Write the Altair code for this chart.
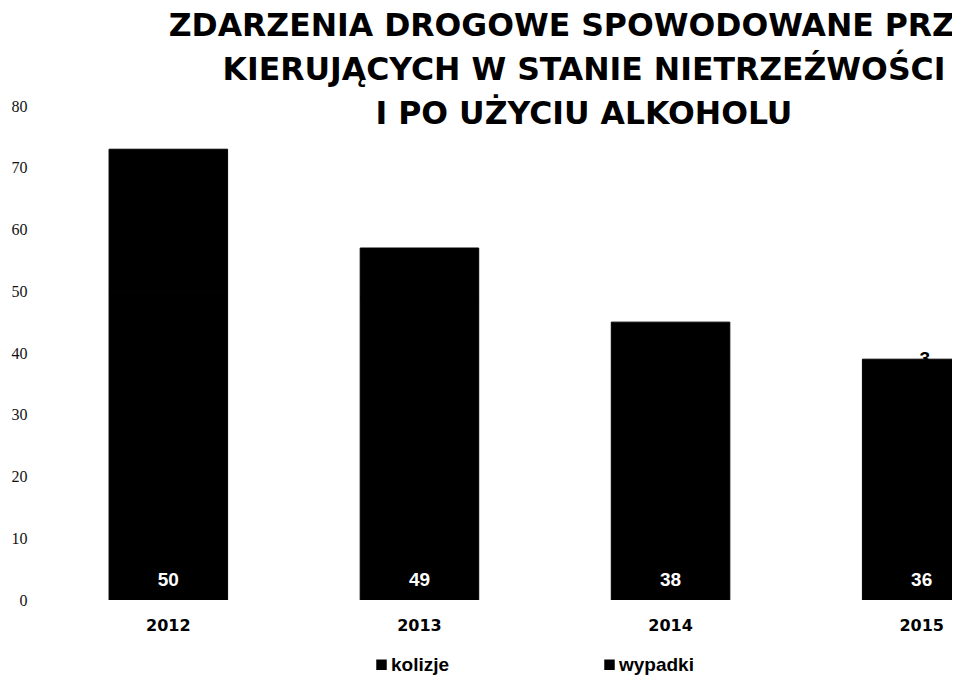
import altair as alt
import pandas as pd

years = ["2012", "2013", "2014", "2015"]
kolizje = [50, 49, 38, 36]
wypadki = [23, 8, 7, 3]
series_names = ["kolizje", "wypadki"]
title_lines = [
    "ZDARZENIA DROGOWE SPOWODOWANE  PRZEZ",
    "KIERUJĄCYCH W STANIE NIETRZEŹWOŚCI",
    "I PO UŻYCIU ALKOHOLU",
]
y_ticks = [0, 10, 20, 30, 40, 50, 60, 70, 80]

rows = []
for i, yr in enumerate(years):
    rows.append({"year": yr, "series": "kolizje", "value": kolizje[i], "ord": 0,
                 "top": kolizje[i], "zero": 0})
    rows.append({"year": yr, "series": "wypadki", "value": wypadki[i], "ord": 1,
                 "top": kolizje[i] + wypadki[i], "zero": 0})
df = pd.DataFrame(rows)

x_enc = alt.X(
    "year:N",
    sort=years,
    scale=alt.Scale(range=[0, 1010], paddingInner=0.528, paddingOuter=0.275),
    axis=alt.Axis(
        title=None, labelAngle=0, ticks=False, domain=False,
        labelFont="DejaVu Sans", labelFontWeight="bold", labelFontSize=16,
        labelColor="#000000", labelPadding=17,
    ),
)
y_scale = alt.Scale(domain=[0, 80], nice=False)

bars = alt.Chart(df).mark_bar(clip=True, stroke="#000000", strokeWidth=1).encode(
    x=x_enc,
    y=alt.Y(
        "value:Q", stack="zero", scale=y_scale,
        axis=alt.Axis(
            title=None, values=y_ticks, grid=False, ticks=False, domain=False,
            labelFont="Liberation Serif", labelFontSize=16, labelColor="#111111",
            labelPadding=13,
        ),
    ),
    color=alt.Color(
        "series:N",
        scale=alt.Scale(domain=series_names, range=["#000000", "#000000"]),
        legend=alt.Legend(
            title=None, orient="none", legendX=332, legendY=549,
            direction="horizontal", symbolType="square", symbolSize=110,
            symbolStrokeWidth=0, labelFont="Liberation Sans", labelFontWeight="bold",
            labelFontSize=19, labelColor="#000000", labelOffset=0, columnPadding=150,
        ),
    ),
    order=alt.Order("ord:Q"),
)

kol_labels = alt.Chart(df).transform_filter(
    alt.datum.series == "kolizje"
).mark_text(
    font="Liberation Sans", fontWeight="bold", fontSize=19, color="#ffffff",
    baseline="middle", dy=-20,
).encode(
    x=alt.X("year:N", sort=years),
    y=alt.Y("zero:Q", stack=None),
    text=alt.Text("value:Q"),
)

wyp_labels = alt.Chart(df).transform_filter(
    (alt.datum.series == "wypadki") & (alt.datum.year == "2015")
).mark_text(
    font="Liberation Sans", fontWeight="bold", fontSize=19, color="#000000",
    baseline="middle", dx=3,
).encode(
    x=alt.X("year:N", sort=years),
    y=alt.Y("top:Q", stack=None),
    text=alt.Text("value:Q"),
)

chart = alt.layer(bars, kol_labels, wyp_labels).properties(
    width=912,
    height=494,
    autosize=alt.AutoSizeParams(type="none"),
    padding={"left": 32, "top": 98, "right": 0, "bottom": 78},
    background="#ffffff",
    title=alt.TitleParams(
        text=title_lines, font="DejaVu Sans", fontWeight="bold", fontSize=31.5,
        lineHeight=44, anchor="middle", dx=88, dy=36, color="#000000",
    ),
).configure_view(stroke=None)

chart.save("out.html", embed_options={"renderer": "svg", "actions": False})
